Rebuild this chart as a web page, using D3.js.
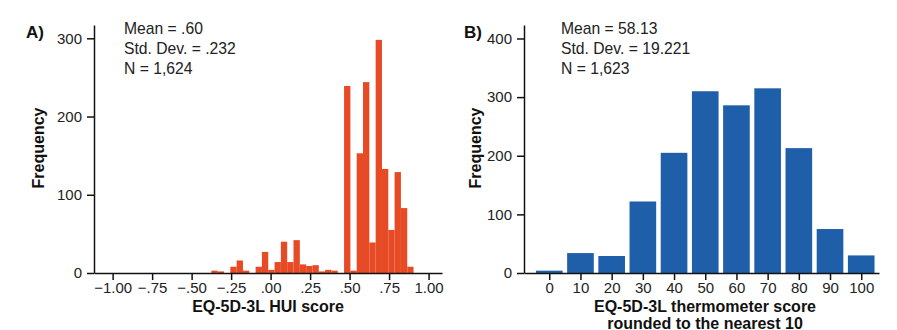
<!DOCTYPE html>
<html>
<head>
<meta charset="utf-8">
<script src="https://cdn.jsdelivr.net/npm/d3@7"></script>
<style>
  body { margin: 0; background: #fff; }
  svg { display: block; font-family: "Liberation Sans", Arial, sans-serif; }
  .axis path, .axis line { stroke: #111; stroke-width: 1.5px; }
  .axis text { font-size: 15px; fill: #222; font-family: "Liberation Sans", Arial, sans-serif; }
</style>
</head>
<body>
<svg id="chart" width="897" height="330"></svg>
<script>
// Panel A: EQ-5D-3L HUI score histogram (bins of .04)
const huiBinStart = -0.375;
const huiBinWidth = 0.04;
const huiCounts = [3, 2, 0, 8, 16, 3, 0, 8, 27, 4, 14, 40, 14, 42, 11, 9, 10, 2, 4, 3, 0,
                   239, 3, 153, 244, 39, 298, 133, 55, 129, 83, 8];
const huiTicksX = [-1, -0.75, -0.5, -0.25, 0, 0.25, 0.5, 0.75, 1];
const huiTicksY = [0, 100, 200, 300];
const huiStats = ['Mean = .60', 'Std. Dev. = .232', 'N = 1,624'];

// Panel B: thermometer score rounded to nearest 10
const thermoCategories = [0, 10, 20, 30, 40, 50, 60, 70, 80, 90, 100];
const thermoCounts = [4, 34, 29, 122, 205, 310, 286, 315, 213, 75, 30];
const thermoTicksY = [0, 100, 200, 300, 400];
const thermoStats = ['Mean = 58.13', 'Std. Dev. = 19.221', 'N = 1,623'];

const svg = d3.select('#chart');
const ORANGE = '#e64b26';
const BLUE = '#1f5fa9';

function fmtHui(d) {
    return d3.format('.2f')(d).replace(/^(−?)0\./, '$1.');
}

function statsBlock(x, lines) {
    svg.append('g').selectAll('text')
        .data(lines)
        .join('text')
        .attr('x', x)
        .attr('y', (d, i) => 34 + i * 20)
        .style('font-size', '15.7px')
        .style('fill', '#222')
        .text(d => d);
}

function panelLabel(x, label) {
    svg.append('text')
        .attr('x', x)
        .attr('y', 38)
        .style('font-size', '17px')
        .style('font-weight', 'bold')
        .style('fill', '#111')
        .text(label);
}

function freqLabel(x) {
    svg.append('text')
        .attr('transform', `translate(${x},148) rotate(-90)`)
        .attr('text-anchor', 'middle')
        .style('font-size', '16px')
        .style('font-weight', 'bold')
        .style('fill', '#111')
        .text('Frequency');
}

// ---------- Panel A ----------
const xA = d3.scaleLinear().domain([-1.118, 1.085]).range([94, 442]);
const yA = d3.scaleLinear().domain([0, 317]).range([273, 25]);

svg.append('g')
    .selectAll('rect')
    .data(huiCounts)
    .join('rect')
    .attr('x', (d, i) => xA(huiBinStart + i * huiBinWidth))
    .attr('width', (d, i) => xA(huiBinStart + (i + 1) * huiBinWidth) - xA(huiBinStart + i * huiBinWidth))
    .attr('y', d => yA(d))
    .attr('height', d => yA(0) - yA(d))
    .attr('fill', ORANGE);

svg.append('g')
    .attr('class', 'axis')
    .attr('transform', `translate(0,${yA(0)})`)
    .call(d3.axisBottom(xA).tickValues(huiTicksX).tickFormat(fmtHui)
        .tickSize(7).tickSizeOuter(0).tickPadding(2));

svg.append('g')
    .attr('class', 'axis')
    .attr('transform', `translate(${xA.range()[0]},0)`)
    .call(d3.axisLeft(yA).tickValues(huiTicksY).tickSize(7).tickSizeOuter(0).tickPadding(5));

svg.append('text')
    .attr('x', 268)
    .attr('y', 312)
    .attr('text-anchor', 'middle')
    .style('font-size', '16px')
    .style('font-weight', 'bold')
    .style('fill', '#111')
    .text('EQ-5D-3L HUI score');

freqLabel(44);
panelLabel(26, 'A)');
statsBlock(124, huiStats);

// ---------- Panel B ----------
const xB = d3.scaleLinear().domain([-8.1, 105.7]).range([524, 879]);
const yB = d3.scaleLinear().domain([0, 423]).range([273, 25]);
const barHalf = 4.27;

svg.append('g')
    .selectAll('rect')
    .data(thermoCounts)
    .join('rect')
    .attr('x', (d, i) => xB(thermoCategories[i] - barHalf))
    .attr('width', (d, i) => xB(thermoCategories[i] + barHalf) - xB(thermoCategories[i] - barHalf))
    .attr('y', d => yB(d))
    .attr('height', d => yB(0) - yB(d))
    .attr('fill', BLUE);

svg.append('g')
    .attr('class', 'axis')
    .attr('transform', `translate(0,${yB(0)})`)
    .call(d3.axisBottom(xB).tickValues(thermoCategories).tickFormat(d3.format('d'))
        .tickSize(7).tickSizeOuter(0).tickPadding(2));

svg.append('g')
    .attr('class', 'axis')
    .attr('transform', `translate(${xB.range()[0]},0)`)
    .call(d3.axisLeft(yB).tickValues(thermoTicksY).tickSize(7).tickSizeOuter(0).tickPadding(5));

svg.append('text')
    .attr('x', 705)
    .attr('y', 312)
    .attr('text-anchor', 'middle')
    .style('font-size', '16px')
    .style('font-weight', 'bold')
    .style('fill', '#111')
    .selectAll('tspan')
    .data(['EQ-5D-3L thermometer score', 'rounded to the nearest 10'])
    .join('tspan')
    .attr('x', 705)
    .attr('dy', (d, i) => i === 0 ? 0 : 17)
    .text(d => d);

freqLabel(481);
panelLabel(464, 'B)');
statsBlock(561, thermoStats);
</script>
</body>
</html>
